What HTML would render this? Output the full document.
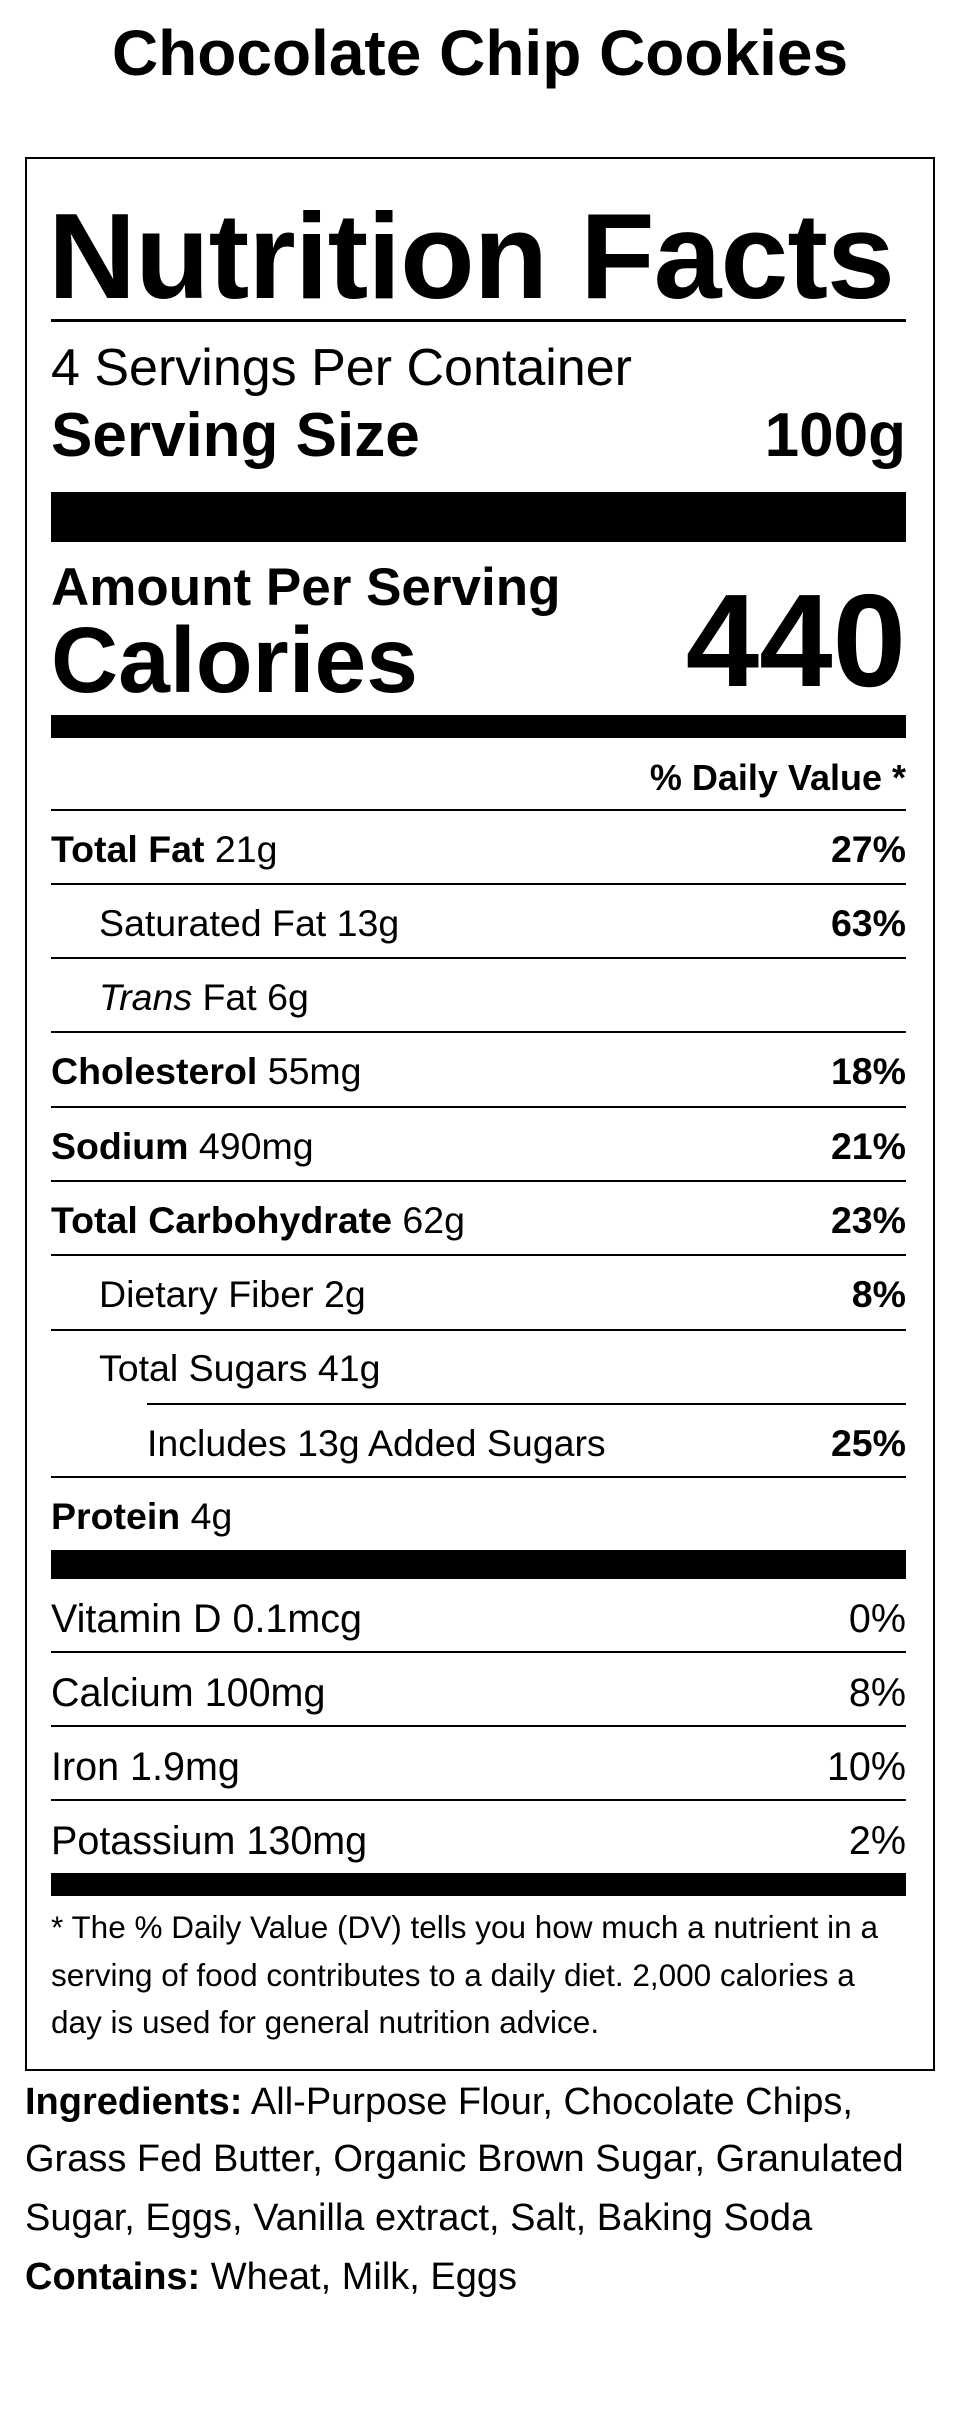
<!DOCTYPE html>
<html><head><meta charset="utf-8"><style>
*{margin:0;padding:0;box-sizing:border-box}
body{width:960px;height:2430px;background:#fff;position:relative;font-family:"Liberation Sans",sans-serif;color:#000;overflow:hidden}
.t{position:absolute;line-height:1;white-space:nowrap}
.b{font-weight:bold}
.r{position:absolute;background:#000}
.rt{right:54px;text-align:right}
.row{font-size:37.5px}
.v{font-size:39.5px}
</style></head><body>
<div class="t b" style="left:0;width:960px;text-align:center;top:21px;font-size:64px;">Chocolate Chip Cookies</div>
<div style="position:absolute;left:25px;top:157px;width:910px;height:1914px;border:2.5px solid #000"></div>

<div class="t b" style="left:48px;top:195px;font-size:122px;letter-spacing:-1px">Nutrition Facts</div>
<div class="r" style="left:51px;width:855px;top:319px;height:3px"></div>
<div class="t" style="left:51px;top:342px;font-size:52px">4 Servings Per Container</div>
<div class="t b" style="left:51px;top:405px;font-size:62px">Serving Size</div>
<div class="t b rt" style="top:405px;font-size:62px">100g</div>
<div class="r" style="left:51px;width:855px;top:492px;height:50px"></div>
<div class="t b" style="left:51px;top:561px;font-size:53px">Amount Per Serving</div>
<div class="t b" style="left:51px;top:614px;font-size:93px">Calories</div>
<div class="t b rt" style="top:575px;font-size:132px">440</div>
<div class="r" style="left:51px;width:855px;top:715px;height:23px"></div>
<div class="t b rt" style="top:760px;font-size:36px">% Daily Value *</div>
<div class="r" style="left:51px;width:855px;top:809px;height:2px"></div>

<div class="t row" style="left:51px;top:831px"><b>Total Fat</b> 21g</div><div class="t b rt row" style="top:831px">27%</div>
<div class="r" style="left:51px;width:855px;top:883px;height:2px"></div>
<div class="t row" style="left:99px;top:905px">Saturated Fat 13g</div><div class="t b rt row" style="top:905px">63%</div>
<div class="r" style="left:51px;width:855px;top:957px;height:2px"></div>
<div class="t row" style="left:99px;top:979px"><i>Trans</i> Fat 6g</div>
<div class="r" style="left:51px;width:855px;top:1031px;height:2px"></div>
<div class="t row" style="left:51px;top:1053px"><b>Cholesterol</b> 55mg</div><div class="t b rt row" style="top:1053px">18%</div>
<div class="r" style="left:51px;width:855px;top:1106px;height:2px"></div>
<div class="t row" style="left:51px;top:1128px"><b>Sodium</b> 490mg</div><div class="t b rt row" style="top:1128px">21%</div>
<div class="r" style="left:51px;width:855px;top:1180px;height:2px"></div>
<div class="t row" style="left:51px;top:1202px"><b>Total Carbohydrate</b> 62g</div><div class="t b rt row" style="top:1202px">23%</div>
<div class="r" style="left:51px;width:855px;top:1254px;height:2px"></div>
<div class="t row" style="left:99px;top:1276px">Dietary Fiber 2g</div><div class="t b rt row" style="top:1276px">8%</div>
<div class="r" style="left:51px;width:855px;top:1329px;height:2px"></div>
<div class="t row" style="left:99px;top:1350px">Total Sugars 41g</div>
<div class="r" style="left:147px;width:759px;top:1403px;height:2px"></div>
<div class="t row" style="left:147px;top:1425px">Includes 13g Added Sugars</div><div class="t b rt row" style="top:1425px">25%</div>
<div class="r" style="left:51px;width:855px;top:1476px;height:2px"></div>
<div class="t row" style="left:51px;top:1498px"><b>Protein</b> 4g</div>
<div class="r" style="left:51px;width:855px;top:1550px;height:29px"></div>

<div class="t v" style="left:51px;top:1600px">Vitamin D 0.1mcg</div><div class="t rt v" style="top:1600px">0%</div>
<div class="r" style="left:51px;width:855px;top:1651px;height:2px"></div>
<div class="t v" style="left:51px;top:1674px">Calcium 100mg</div><div class="t rt v" style="top:1674px">8%</div>
<div class="r" style="left:51px;width:855px;top:1725px;height:2px"></div>
<div class="t v" style="left:51px;top:1748px">Iron 1.9mg</div><div class="t rt v" style="top:1748px">10%</div>
<div class="r" style="left:51px;width:855px;top:1799px;height:2px"></div>
<div class="t v" style="left:51px;top:1822px">Potassium 130mg</div><div class="t rt v" style="top:1822px">2%</div>
<div class="r" style="left:51px;width:855px;top:1873px;height:23px"></div>

<div class="t" style="left:51px;top:1912px;font-size:31.5px">* The % Daily Value (DV) tells you how much a nutrient in a</div>
<div class="t" style="left:51px;top:1960px;font-size:31.5px">serving of food contributes to a daily diet. 2,000 calories a</div>
<div class="t" style="left:51px;top:2007px;font-size:31.5px">day is used for general nutrition advice.</div>

<div class="t" style="left:25px;top:2083px;font-size:38px"><b>Ingredients:</b> All-Purpose Flour, Chocolate Chips,</div>
<div class="t" style="left:25px;top:2140px;font-size:38px">Grass Fed Butter, Organic Brown Sugar, Granulated</div>
<div class="t" style="left:25px;top:2199px;font-size:38px">Sugar, Eggs, Vanilla extract, Salt, Baking Soda</div>
<div class="t" style="left:25px;top:2258px;font-size:38px"><b>Contains:</b> Wheat, Milk, Eggs</div>
</body></html>
